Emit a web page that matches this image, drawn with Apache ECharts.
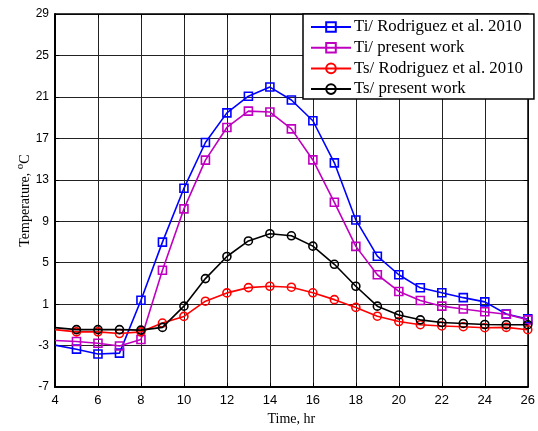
<!DOCTYPE html>
<html><head><meta charset="utf-8">
<script src="https://cdn.jsdelivr.net/npm/echarts@6/dist/echarts.min.js"></script>
<style>html,body{margin:0;padding:0;background:#fff}#c{width:538px;height:431px}</style>
</head><body><div id="c"></div>
<script>
const hours = [4,5,6,7,8,9,10,11,12,13,14,15,16,17,18,19,20,21,22,23,24,25,26];
const tiRodriguez = [-2.95,-3.34,-3.81,-3.72,1.38,6.99,12.18,16.6,19.46,21.07,21.95,20.7,18.7,14.64,9.13,5.63,3.84,2.58,2.1,1.63,1.22,0.05,-0.42];
const tiPresent = [-2.5,-2.6,-2.77,-3.03,-2.4,4.27,10.2,14.9,18.05,19.63,19.54,17.92,14.92,10.83,6.58,3.84,2.23,1.35,0.81,0.53,0.27,0.03,-0.51];
const tsRodriguez = [-1.45,-1.67,-1.67,-1.83,-1.67,-0.82,-0.18,1.29,2.09,2.6,2.73,2.64,2.1,1.44,0.69,-0.16,-0.67,-0.98,-1.1,-1.17,-1.27,-1.24,-1.46];
const tsPresent = [-1.26,-1.45,-1.45,-1.45,-1.5,-1.24,0.81,3.47,5.6,7.1,7.8,7.6,6.6,4.85,2.73,0.81,-0.04,-0.51,-0.77,-0.86,-0.96,-0.98,-0.98];
const seriesNames = ['Ti/ Rodriguez et al. 2010','Ti/ present work','Ts/ Rodriguez et al. 2010','Ts/ present work'];
const xMin = 4, xMax = 26, xStep = 2;
const yMin = -7, yMax = 29, yStep = 4;

const colors = ['#0000FF','#C000C0','#FF0000','#000000'];
const symbols = ['rect','rect','circle','circle'];
const allValues = [tiRodriguez, tiPresent, tsRodriguez, tsPresent];

function buildData(vals){
  return hours.map((h,i)=> i===0 ? {value:[h, vals[i]], symbol:'none'} : [h, vals[i]]);
}

const series = allValues.map((vals, k) => ({
  name: seriesNames[k],
  type: 'line',
  data: buildData(vals),
  symbol: symbols[k],
  symbolSize: 8,
  showAllSymbol: true,
  clip: true,
  lineStyle: {color: colors[k], width: 1.6},
  itemStyle: {color: 'rgba(255,255,255,0)', borderColor: colors[k], borderWidth: 1.6},
  emphasis: {disabled: true},
  z: 3 + k
}));

const chart = echarts.init(document.getElementById('c'), null, {renderer: 'canvas'});
chart.setOption({
  animation: false,
  backgroundColor: '#fff',
  grid: {left: 55, right: 7, top: 14, bottom: 39, containLabel: false},
  legend: {
    orient: 'vertical',
    left: 303, top: 14,
    padding: [4, 11, 1, 7],
    itemWidth: 40, itemHeight: 12, itemGap: 2.7,
    backgroundColor: '#fff',
    borderColor: '#000', borderWidth: 1.5,
    textStyle: {fontFamily: '"Liberation Serif", "Times New Roman", serif', fontSize: 16.8, lineHeight: 18, color: '#000', padding: [0,0,0,-2]},
    data: seriesNames,
    z: 10
  },
  xAxis: [{
    type: 'value', min: xMin, max: xMax, interval: xStep,
    name: 'Time, hr', nameLocation: 'middle', nameGap: 22,
    nameTextStyle: {fontFamily: '"Liberation Serif", serif', fontSize: 14, color: '#000'},
    axisLine: {show: true, onZero: false, lineStyle: {color: '#000', width: 2}},
    axisTick: {show: true, inside: true, length: 4, lineStyle: {color: '#000'}},
    axisLabel: {fontFamily: '"Liberation Sans", Arial, sans-serif', fontSize: 13, color: '#000', margin: 7},
    splitLine: {show: true, lineStyle: {color: '#222', width: 1}}
  },{
    type: 'value', min: xMin, max: xMax, interval: xStep, position: 'top',
    axisLine: {show: true, onZero: false, lineStyle: {color: '#000', width: 1.5}},
    axisTick: {show: true, inside: true, length: 4, lineStyle: {color: '#000'}},
    axisLabel: {show: false}, splitLine: {show: false}
  }],
  yAxis: [{
    type: 'value', min: yMin, max: yMax, interval: yStep,
    name: 'Temperature, {sup|o}C', nameLocation: 'middle', nameGap: 20, nameMoveOverlap: false,
    nameTextStyle: {fontFamily: '"Liberation Serif", serif', fontSize: 14, color: '#000',
      rich: {sup: {fontFamily: '"Liberation Serif", serif', fontSize: 11, color: '#000', verticalAlign: 'top', padding: [0,0,9,0]}}},
    axisLine: {show: true, onZero: false, lineStyle: {color: '#000', width: 2}},
    axisTick: {show: true, inside: true, length: 4, lineStyle: {color: '#000'}},
    axisLabel: {fontFamily: '"Liberation Sans", Arial, sans-serif', fontSize: 12, color: '#000', margin: 6},
    splitLine: {show: true, lineStyle: {color: '#222', width: 1}}
  },{
    type: 'value', min: yMin, max: yMax, interval: yStep, position: 'right',
    axisLine: {show: true, onZero: false, lineStyle: {color: '#000', width: 1.5}},
    axisTick: {show: true, inside: true, length: 4, lineStyle: {color: '#000'}},
    axisLabel: {show: false}, splitLine: {show: false}
  }],
  series: series
});
</script></body></html>
